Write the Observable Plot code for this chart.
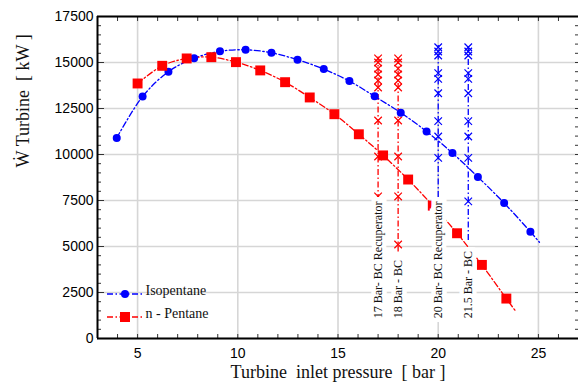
<!DOCTYPE html>
<html><head><meta charset="utf-8">
<script src="https://cdn.jsdelivr.net/npm/d3@7"></script>
<script src="https://cdn.jsdelivr.net/npm/@observablehq/plot@0.6"></script>
<style>
body{margin:0;background:#fff;}
#chart{position:relative;width:578px;height:390px;overflow:hidden;}
#legend{position:absolute;left:0;top:0;pointer-events:none;}
</style></head><body><div id="chart"></div><script>
// Isopentane (blue circles)
const isoP = [3.96, 5.25, 6.54, 7.82, 9.11, 10.39, 11.68, 12.98, 14.29, 15.57, 16.83, 18.13, 19.42, 20.71, 21.98, 23.29, 24.6];
const isoW = [10900, 13150, 14500, 15230, 15610, 15690, 15530, 15150, 14640, 13990, 13160, 12270, 11250, 10080, 8780, 7360, 5800];
const isoTailP = [25.05];
const isoTailW = [5230];
// n-Pentane (red squares)
const penP = [5.0, 6.23, 7.45, 8.68, 9.91, 11.12, 12.36, 13.59, 14.82, 16.04, 17.25, 18.5, 19.73, 20.94, 22.18, 23.4];
const penW = [13860, 14820, 15220, 15290, 15020, 14570, 13930, 13100, 12190, 11100, 9950, 8640, 7220, 5720, 4000, 2170];
const penTailP = [23.84];
const penTailW = [1520];
// vertical lines (pressure cases)
const caseP = [17, 18, 20, 21.5];
const caseColor = ["#ff0000", "#ff0000", "#0000ff", "#0000ff"];
const caseTop = [15300, 15300, 15920, 15920];
const caseBottom = [7500, 4700, 7660, 5330];
const caseLabels = ["17 Bar- BC Recuperator", "18 Bar - BC", "20 Bar- BC Recuperator", "21.5 Bar - BC"];
const caseLabelW = [1100, 1100, 1100, 1100];
const case17W = [15220, 15000, 14670, 14350, 14020, 13640, 11850, 9890, 7720];
const case18W = [15220, 15000, 14670, 14350, 14020, 13640, 11850, 9890, 7720, 5110];
const case20W = [15830, 15600, 15380, 14420, 14110, 13330, 11810, 10980, 9820];
const case215W = [15830, 15600, 15380, 14420, 14110, 13330, 11810, 10980, 9820, 7450];
// axes
const xTicks = [5, 10, 15, 20, 25];
const yTicks = [0, 2500, 5000, 7500, 10000, 12500, 15000, 17500];
const xMinor = d3.range(3, 28, 1);
const yMinor = d3.range(0, 17501, 500);
const xTitle = "Turbine\u00a0 inlet pressure\u00a0 [ bar ]";
const yTitle = "\u1E86 Turbine\u00a0 [ kW ]";
const seriesNames = ["Isopentane", "n - Pentane"];

const iso = isoP.map((p, i) => ({p, w: isoW[i]}));
const isoLine = iso.concat(isoTailP.map((p, i) => ({p, w: isoTailW[i]})));
const pen = penP.map((p, i) => ({p, w: penW[i]}));
const penLine = pen.concat(penTailP.map((p, i) => ({p, w: penTailW[i]})));
const caseRules = caseP.map((p, i) => ({p, c: caseColor[i], y1: caseBottom[i], y2: caseTop[i], label: caseLabels[i], lw: caseLabelW[i]}));
const caseMarks = [case17W, case18W, case20W, case215W].flatMap((arr, i) => arr.map(w => ({p: caseP[i], w, c: caseColor[i]})));

const dash = "6,2.5,1.5,2.5";
const serif = "Liberation Serif, Times New Roman, serif";
const sans = "Liberation Sans, Arial, sans-serif";

const chart = Plot.plot({
  width: 578, height: 390,
  marginLeft: 97, marginRight: 0, marginTop: 16, marginBottom: 52,
  style: {fontFamily: sans, fontSize: "14px", color: "#000", background: "#fff"},
  x: {domain: [3, 27]},
  y: {domain: [0, 17500]},
  marks: [
    Plot.gridX(xTicks, {stroke: "#d6d6d6", strokeOpacity: 1, strokeWidth: 1.6}),
    Plot.gridY(yTicks, {stroke: "#d6d6d6", strokeOpacity: 1, strokeWidth: 1.6}),
    Plot.axisX({ticks: xTicks, tickSize: 0, tickPadding: 10, label: null, fontSize: 14, tickFormat: d3.format("d")}),
    Plot.axisY({ticks: yTicks, tickSize: 0, tickPadding: 4, label: null, fontSize: 14, tickFormat: d3.format("d")}),
    Plot.axisY({anchor: "left", ticks: yMinor, tickSize: 4, dx: 4, text: null, label: null, stroke: "#333"}),
    Plot.axisY({anchor: "left", ticks: yTicks, tickSize: 7, dx: 7, text: null, label: null, stroke: "#333"}),
    Plot.axisY({anchor: "right", ticks: yMinor, tickSize: 4, dx: -4, text: null, label: null, stroke: "#333"}),
    Plot.axisX({anchor: "bottom", ticks: xMinor, tickSize: 4, dy: -4, text: null, label: null, stroke: "#333"}),
    Plot.axisX({anchor: "top", ticks: xMinor, tickSize: 4, dy: 4, text: null, label: null, stroke: "#333"}),
    // vertical case lines
    Plot.ruleX(caseRules, {x: "p", y1: "y1", y2: "y2", stroke: "c", strokeWidth: 1.3, strokeDasharray: dash}),
    Plot.dot(caseMarks, {x: "p", y: "w", symbol: "times", r: 3.5, stroke: "c", strokeWidth: 1.2}),
    // curves
    Plot.line(isoLine, {x: "p", y: "w", curve: "catmull-rom", stroke: "#0000ff", strokeWidth: 1.3, strokeDasharray: dash}),
    Plot.line(penLine, {x: "p", y: "w", curve: "catmull-rom", stroke: "#ff0000", strokeWidth: 1.3, strokeDasharray: dash}),
    Plot.dot(iso, {x: "p", y: "w", r: 4, fill: "#0000ff", stroke: "none"}),
    Plot.dot(pen, {x: "p", y: "w", symbol: "square", r: 5.6, fill: "#ff0000", stroke: "none"}),
    // case labels with white box
    Plot.text(caseRules, {x: "p", y: "lw", text: "label", rotate: -90, textAnchor: "start", fontFamily: serif, fontSize: 12, fill: "#111", stroke: "#fff", strokeWidth: 9, strokeLinejoin: "miter"}),
    // frame lines
    Plot.ruleY([0], {stroke: "#000", strokeWidth: 2}),
    Plot.ruleY([17500], {stroke: "#000", strokeWidth: 2}),
    Plot.ruleX([3], {stroke: "#000", strokeWidth: 2}),
    // legend labels
    Plot.text([seriesNames[0]], {frameAnchor: "bottom-left", dx: 48, dy: -44, textAnchor: "start", fontFamily: serif, fontSize: 14, fill: "#111"}),
    Plot.text([seriesNames[1]], {frameAnchor: "bottom-left", dx: 48, dy: -21, textAnchor: "start", fontFamily: serif, fontSize: 14, fill: "#111"}),
    // titles
    Plot.text([xTitle], {frameAnchor: "bottom", dy: 39, fontFamily: serif, fontSize: 18, fill: "#111"}),
    Plot.text([yTitle], {frameAnchor: "left", dx: -74, dy: -10, rotate: -90, fontFamily: serif, fontSize: 18, fill: "#111"})
  ]
});
const host = document.getElementById("chart");
host.appendChild(chart);

// legend samples (inside plot area, lower left)
const lg = d3.select(host).append("svg").attr("id", "legend").attr("width", 578).attr("height", 390);
const items = [
  {color: "#0000ff", sym: "circle", y: 294},
  {color: "#ff0000", sym: "square", y: 317}
];
for (const it of items) {
  lg.append("line").attr("x1", 107).attr("x2", 143).attr("y1", it.y).attr("y2", it.y)
    .attr("stroke", it.color).attr("stroke-width", 1.3).attr("stroke-dasharray", dash);
  if (it.sym === "circle") lg.append("circle").attr("cx", 125).attr("cy", it.y).attr("r", 4).attr("fill", it.color);
  else lg.append("rect").attr("x", 120).attr("y", it.y - 5).attr("width", 10).attr("height", 10).attr("fill", it.color);
}
</script></body></html>
